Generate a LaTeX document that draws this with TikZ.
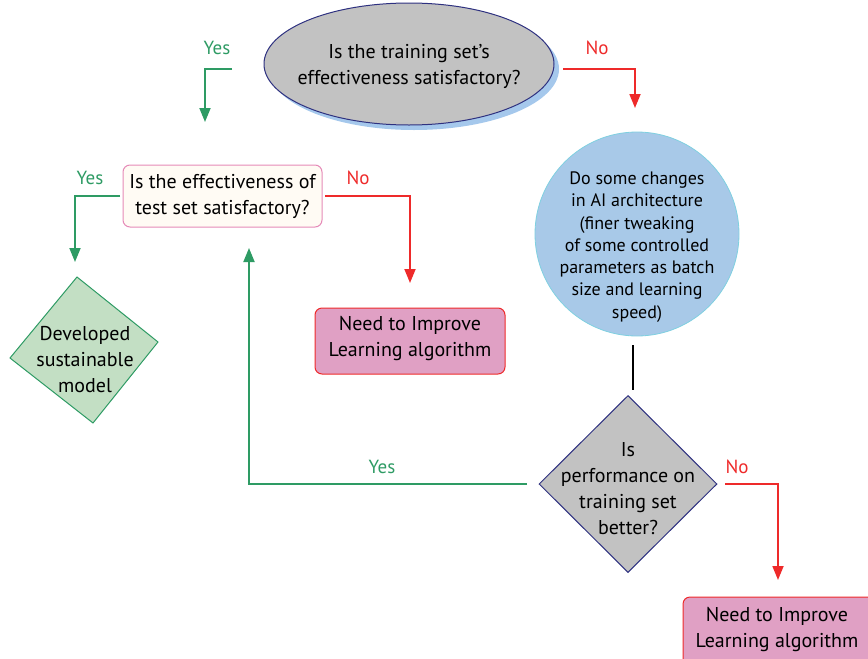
\documentclass[tikz,border=0pt]{standalone}
\usepackage{fontspec}
\setmainfont{PT Sans}
\usetikzlibrary{shapes.geometric,arrows.meta}

\definecolor{yesgreen}{HTML}{2E9B64}
\definecolor{nored}{HTML}{EE2A2A}
\definecolor{qgray}{HTML}{C2C2C2}
\definecolor{qnavy}{HTML}{2E3180}
\definecolor{shadowblue}{HTML}{A5C8EC}
\definecolor{circfill}{HTML}{A8C9E8}
\definecolor{circline}{HTML}{7FD0E0}
\definecolor{testfill}{HTML}{FFFBF4}
\definecolor{testline}{HTML}{E58AB8}
\definecolor{improvefill}{HTML}{E0A0C4}
\definecolor{devfill}{HTML}{C3DFC4}

\tikzset{
  yesline/.style={draw=yesgreen, line width=1.8pt, -{Triangle[width=11pt,length=14pt]}},
  noline/.style={draw=nored, line width=1.8pt, -{Triangle[width=11pt,length=14pt]}},
  yeslabel/.style={text=yesgreen, font=\fontsize{19}{22}\selectfont},
  nolabel/.style={text=nored, font=\fontsize{19}{22}\selectfont},
  bodytext/.style={align=center, font=\fontsize{20}{26}\selectfont},
  improvebox/.style={draw=nored, fill=improvefill, line width=1pt, rounded corners=7pt},
}

\begin{document}
\begin{tikzpicture}[x=1pt,y=-1pt]
\useasboundingbox (0,0) rectangle (868,659);
\clip (0,0) rectangle (868,659);

% top decision: ellipse with its blue shadow
\fill[shadowblue] (414,69) ellipse [x radius=145, y radius=61];
\node[ellipse, draw=qnavy, fill=qgray, line width=1pt,
      minimum width=290pt, minimum height=122pt, inner sep=0pt] (q1) at (409,64) {};
\node[bodytext] (q1text) at (409,66) {Is the training set’s\\effectiveness satisfactory?};

% right branch: changes in the AI architecture
\node[circle, draw=circline, fill=circfill, line width=0.8pt,
      minimum size=204pt, inner sep=0pt] (ai) at (637,234) {};
\node[align=center, font=\fontsize{18}{22.3}\selectfont] (aitext) at (637,247)
  {Do some changes\\in AI architecture\\(finer tweaking\\of some controlled\\parameters as batch\\size and learning\\speed)};

% decision on the training set performance
\node[diamond, draw=qnavy, fill=qgray, line width=1pt, aspect=1,
      minimum width=178pt, minimum height=177pt, inner sep=0pt] (q3) at (628,484) {};
\node[bodytext] (q3text) at (628,489) {Is\\performance on\\training set\\better?};

% decision on the test set
\node[draw=testline, fill=testfill, line width=1pt, rounded corners=7pt,
      minimum width=199pt, minimum height=62pt, inner sep=0pt] (q2) at (222.5,196) {};
\node[bodytext] (q2text) at (222.5,196) {Is the effectiveness of\\test set satisfactory?};

% outcome boxes
\node[improvebox, minimum width=190pt, minimum height=66pt, inner sep=0pt] (imp1) at (410,341) {};
\node[bodytext] (imp1text) at (410,339) {Need to Improve\\Learning algorithm};
\node[improvebox, minimum width=200pt, minimum height=80pt, inner sep=0pt] (imp2) at (783,637) {};
\node[bodytext] (imp2text) at (777,630) {Need to Improve\\Learning algorithm};

% final outcome: slightly tilted green diamond
\coordinate (devT) at (77,277);
\coordinate (devR) at (158,342);
\coordinate (devB) at (93,423);
\coordinate (devL) at (10,358);
\draw[draw=yesgreen, fill=devfill, line width=1pt] (devT) -- (devR) -- (devB) -- (devL) -- cycle;
\node[bodytext] (devtext) at (85,359.5) {Developed\\sustainable\\model};

% connector end points
\coordinate (a1s) at (232,69);   \coordinate (a1c) at (205,69);   \coordinate (a1e) at (205,122);
\coordinate (a2s) at (563,69);   \coordinate (a2c) at (635,69);   \coordinate (a2e) at (635,108);
\coordinate (a3s) at (120,196);  \coordinate (a3c) at (75,196);   \coordinate (a3e) at (75,262);
\coordinate (a4s) at (325,196);  \coordinate (a4c) at (410,196);  \coordinate (a4e) at (410,283);
\coordinate (a5s) at (527,484);  \coordinate (a5c) at (249,484);  \coordinate (a5e) at (249,248);
\coordinate (a6s) at (725,484);  \coordinate (a6c) at (778,484);  \coordinate (a6e) at (778,580);
\coordinate (lnS) at (633,345);  \coordinate (lnE) at (633,390);

% connectors
\draw[yesline] (a1s) -- (a1c) -- (a1e);
\draw[noline]  (a2s) -- (a2c) -- (a2e);
\draw[yesline] (a3s) -- (a3c) -- (a3e);
\draw[noline]  (a4s) -- (a4c) -- (a4e);
\draw[yesline] (a5s) -- (a5c) -- (a5e);
\draw[noline]  (a6s) -- (a6c) -- (a6e);
\draw[line width=1.3pt] (lnS) -- (lnE);

% branch labels
\node[yeslabel] (l1) at (217,48) {Yes};
\node[nolabel]  (l2) at (597,48) {No};
\node[yeslabel] (l3) at (90,178) {Yes};
\node[nolabel]  (l4) at (358,178) {No};
\node[yeslabel] (l5) at (382,467) {Yes};
\node[nolabel]  (l6) at (737,467) {No};
\end{tikzpicture}
\end{document}
